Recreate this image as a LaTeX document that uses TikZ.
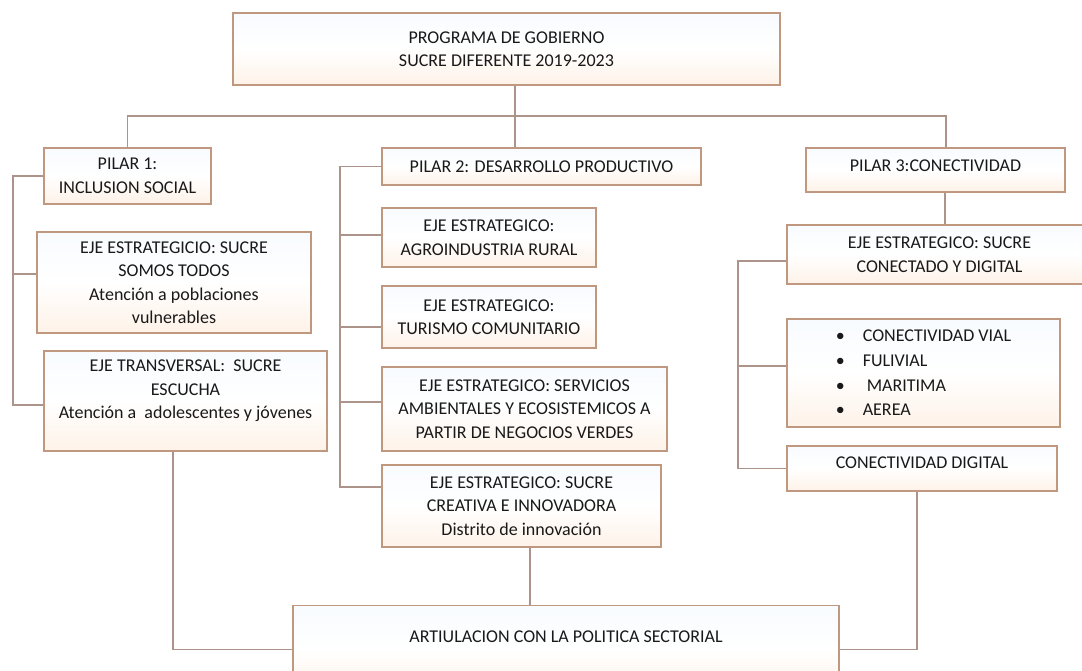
\documentclass[tikz,border=0pt]{standalone}
\usepackage{fontspec}
\setmainfont{Carlito}
\usetikzlibrary{calc}
\definecolor{boxline}{RGB}{192,152,128}
\definecolor{conn}{RGB}{172,148,138}
\definecolor{txt}{RGB}{25,25,25}
\definecolor{topfill}{RGB}{248,251,255}
\definecolor{botfill}{RGB}{254,242,232}
\begin{document}
\begin{tikzpicture}[x=1pt,y=-1pt,
  box/.style={draw=boxline, line width=1.3pt, top color=topfill, bottom color=botfill, middle color=white,
    inner sep=0pt, align=center, text=txt, font=\fontsize{18}{23.5}\selectfont},
  link/.style={draw=conn, line width=1.4pt}]
\useasboundingbox[fill=white] (0,0) rectangle (1082,671);

% top
\node[box, minimum width=547pt, minimum height=72pt] (top) at (506.5,49) {PROGRAMA DE GOBIERNO\\SUCRE DIFERENTE 2019-2023};

% pillar 1
\node[box, minimum width=167pt, minimum height=56pt] (p1) at (127.5,176) {PILAR 1:\\INCLUSION SOCIAL};
\node[box, minimum width=274pt, minimum height=101pt] (e1) at (174,282.5) {EJE ESTRATEGICIO: SUCRE\\SOMOS TODOS\\Atención a poblaciones\\vulnerables};
\node[box, minimum width=283pt, minimum height=100pt, text depth=23pt] (e2) at (185.5,401) {EJE TRANSVERSAL:\ \ SUCRE\\ESCUCHA\\Atención a\ \ adolescentes y jóvenes};

% pillar 2
\node[box, minimum width=319pt, minimum height=37pt] (p2) at (541.5,166.5) {PILAR 2: DESARROLLO PRODUCTIVO};
\node[box, minimum width=214pt, minimum height=59pt] (a1) at (489,237.5) {EJE ESTRATEGICO:\\AGROINDUSTRIA RURAL};
\node[box, minimum width=214pt, minimum height=62pt] (a2) at (489,317) {EJE ESTRATEGICO:\\TURISMO COMUNITARIO};
\node[box, minimum width=285pt, minimum height=84pt] (a3) at (524.5,409) {EJE ESTRATEGICO: SERVICIOS\\AMBIENTALES Y ECOSISTEMICOS A\\PARTIR DE NEGOCIOS VERDES};
\node[box, minimum width=279pt, minimum height=82pt] (a4) at (521.5,506) {EJE ESTRATEGICO: SUCRE\\CREATIVA E INNOVADORA\\Distrito de innovación};

% pillar 3
\node[box, minimum width=259pt, minimum height=44pt, text depth=8pt] (p3) at (935.5,170) {PILAR 3:CONECTIVIDAD};
\node[box, minimum width=305pt, minimum height=59pt] (c1) at (939.5,254.5) {EJE ESTRATEGICO: SUCRE\\CONECTADO Y DIGITAL};
\node[box, minimum width=273pt, minimum height=108pt, align=left, font=\fontsize{18}{24.7}\selectfont] (c2) at (923.5,373)
  {\makebox[27pt][l]{\textbullet}CONECTIVIDAD VIAL\\\makebox[27pt][l]{\textbullet}FULIVIAL\\\makebox[27pt][l]{\textbullet}\hspace{4pt}MARITIMA\\\makebox[27pt][l]{\textbullet}AEREA};
\node[box, minimum width=270pt, minimum height=45pt, text depth=11pt] (c3) at (922,468.5) {CONECTIVIDAD DIGITAL};

% bottom
\node[box, anchor=north, minimum width=546pt, text height=37pt, text depth=51pt] (bot) at (566,605) {ARTIULACION CON LA POLITICA SECTORIAL};

% connectors: top level
\coordinate (hub) at (515,116);
\draw[link] (top.south -| hub) -- (p2.north -| hub);
\draw[link] (p1.north) |- (hub);
\draw[link] (hub) -| ([xshift=10.5pt]p3.north);

% left spine
\coordinate (s1) at (13,0);
\coordinate (e1c) at ([yshift=8.5pt]e1.west);
\coordinate (e2c) at ([yshift=-4pt]e2.west);
\draw[link] (p1.west) -| (s1 |- e2c) -- (e2c);
\draw[link] (e1c) -- (e1c -| s1);

% middle spine
\coordinate (s2) at (340,0);
\coordinate (a1c) at ([yshift=2.5pt]a1.west);
\coordinate (a2c) at ([yshift=-10pt]a2.west);
\coordinate (a3c) at ([yshift=7pt]a3.west);
\coordinate (a4c) at ([yshift=19pt]a4.west);
\draw[link] (p2.west) -| (s2 |- a4c) -- (a4c);
\draw[link] (a1c) -- (a1c -| s2);
\draw[link] (a2c) -- (a2c -| s2);
\draw[link] (a3c) -- (a3c -| s2);

% right spine
\coordinate (s3) at (738,0);
\coordinate (p3c) at ([xshift=9.5pt]p3.south);
\draw[link] (p3c) -- (p3c |- c1.north);
\coordinate (c1c) at ([yshift=-6.5pt]c1.west);
\coordinate (c2c) at ([yshift=7pt]c2.west);
\draw[link] (c1c) -| (s3 |- c3.west) -- (c3.west);
\draw[link] (c2c) -- (c2c -| s3);

% to bottom
\coordinate (e2b) at ([xshift=-12.5pt]e2.south);
\draw[link] (e2b) |- (bot.west);
\coordinate (a4b) at ([xshift=8.5pt]a4.south);
\draw[link] (a4b) -- (a4b |- bot.north);
\coordinate (c3b) at ([xshift=-5pt]c3.south);
\draw[link] (c3b) |- (bot.east);
\end{tikzpicture}
\end{document}
